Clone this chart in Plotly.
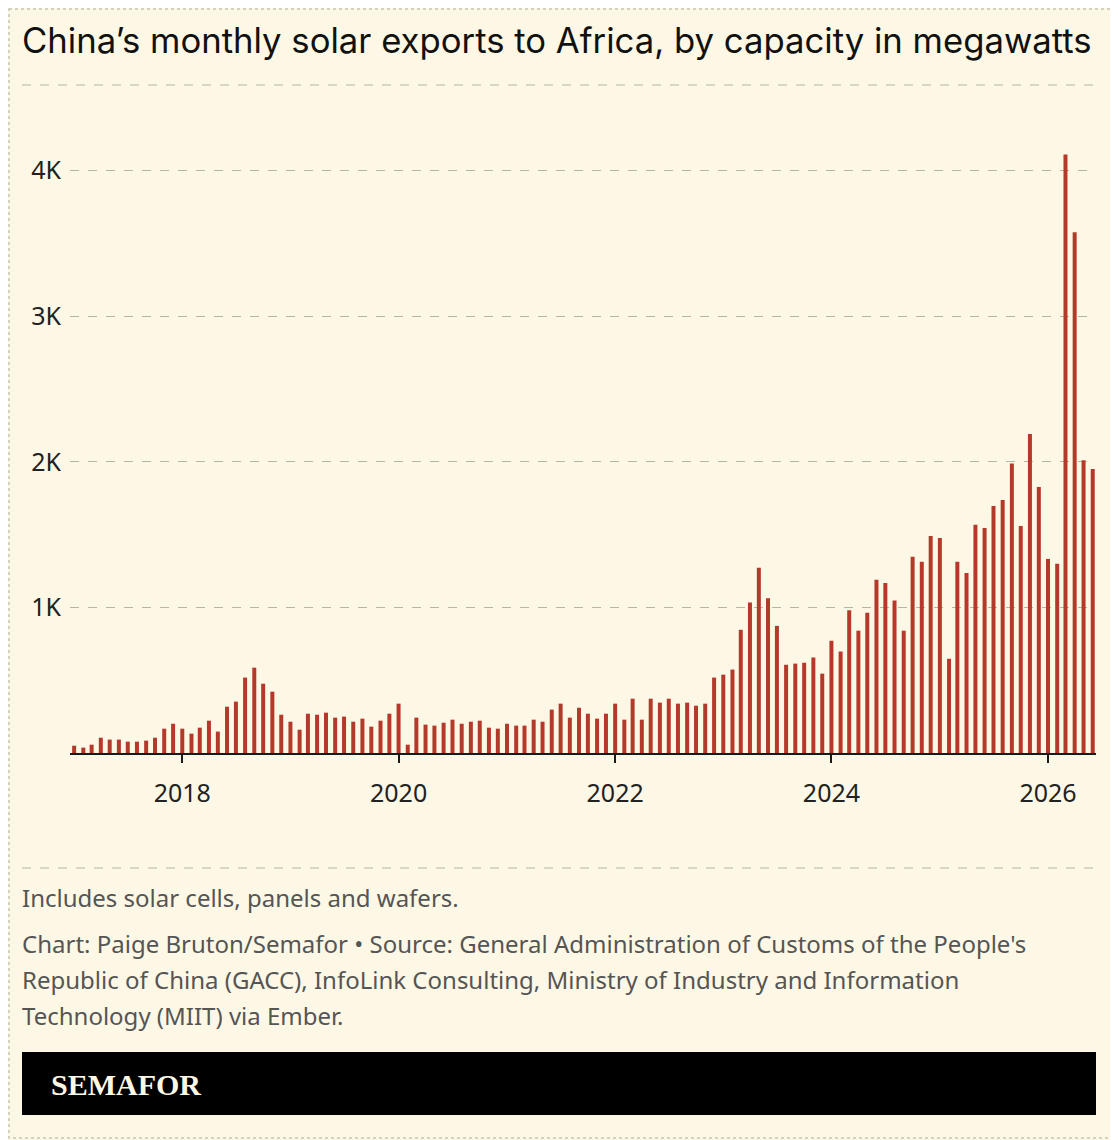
import pandas as pd
import plotly.graph_objects as go

# monthly exports, MW, Jan 2017 - Jun 2026
months = pd.date_range("2017-01-01", "2026-06-01", freq="MS")
mw_2017 = [50, 37, 57, 105, 92, 92, 78, 78, 85, 105, 167, 201]
mw_2018 = [167, 133, 174, 222, 147, 318, 353, 518, 586, 476, 421, 263]
mw_2019 = [215, 160, 270, 263, 277, 243, 250, 215, 236, 181, 222, 270]
mw_2020 = [339, 57, 243, 195, 188, 208, 229, 201, 215, 222, 174, 167]
mw_2021 = [201, 188, 188, 229, 215, 298, 339, 243, 311, 270, 236, 270]
mw_2022 = [339, 229, 373, 229, 373, 346, 373, 339, 346, 325, 339, 518]
mw_2023 = [538, 573, 846, 1033, 1273, 1063, 873, 606, 614, 620, 656, 545]
mw_2024 = [771, 697, 981, 840, 964, 1190, 1168, 1047, 840, 1347, 1314, 1490]
mw_2025 = [1477, 647, 1314, 1237, 1567, 1545, 1697, 1738, 1989, 1559, 2190, 1826]
mw_2026 = [1333, 1300, 4110, 3576, 2011, 1950]
values = mw_2017 + mw_2018 + mw_2019 + mw_2020 + mw_2021 + mw_2022 + mw_2023 + mw_2024 + mw_2025 + mw_2026

y_ticks = [1000, 2000, 3000, 4000]
y_labels = ["1K", "2K", "3K", "4K"]
x_ticks = ["2018-01-01", "2020-01-01", "2022-01-01", "2024-01-01", "2026-01-01"]
x_labels = ["2018", "2020", "2022", "2024", "2026"]

bg = "#fdf8e5"
W, H = 1118, 1140
OFF = 8  # page body margin
L, R, T, B = 70 - OFF, 22 + OFF, 110 - OFF, 387 + OFF

def py(p):  # reference pixel y -> paper y
    return (H - B - (p - OFF)) / (H - T - B)

def px_(p):  # reference pixel x -> paper x
    return (p - OFF - L) / (W - L - R)

day_ms = 24 * 3600 * 1000
fig = go.Figure(go.Bar(x=months, y=values, marker_color="#b5382a",
                       marker_line_width=0, width=13.5 * day_ms))

fig.update_layout(
    width=W, height=H, paper_bgcolor=bg, plot_bgcolor=bg,
    margin=dict(l=L, r=R, t=T, b=B), showlegend=False,
    font=dict(family="Noto Sans", color="#222"),
)
fig.update_xaxes(range=["2016-12-18", "2026-06-12"], tickvals=x_ticks, ticktext=x_labels,
                 ticks="outside", ticklen=8, tickwidth=2, tickcolor="#1a1a1a",
                 showline=True, linecolor="#1a1a1a", linewidth=2, showgrid=False,
                 tickfont=dict(size=25, color="#222"), zeroline=False,
                 ticklabelstandoff=9)
fig.update_yaxes(range=[0, 4416], tickvals=y_ticks, ticktext=y_labels,
                 showgrid=True, gridcolor="#b8b4a6", griddash="dash", gridwidth=1,
                 tickfont=dict(size=25, color="#222"), zeroline=False, ticklen=0,
                 ticklabelstandoff=8)

line_style = dict(color="#b8b4a6", width=1, dash="dash")
shapes = [
    dict(type="line", xref="paper", yref="paper", x0=px_(22), x1=px_(1096), y0=py(85), y1=py(85), line=line_style),
    dict(type="line", xref="paper", yref="paper", x0=px_(22), x1=px_(1096), y0=py(868), y1=py(868), line=line_style),
    dict(type="rect", xref="paper", yref="paper", x0=px_(22), x1=px_(1096), y0=py(1052), y1=py(1115),
         fillcolor="#000", line_width=0),
    dict(type="rect", xref="paper", yref="paper", x0=px_(9), x1=px_(1116), y0=py(9), y1=py(1138),
         line=dict(color="#c8c4b6", width=1.5, dash="dot")),
]
fig.update_layout(shapes=shapes)

def note(text, x, y, size, color, family="Noto Sans"):
    fig.add_annotation(text=text, xref="paper", yref="paper", x=px_(x), y=py(y),
                       xanchor="left", yanchor="middle", showarrow=False, align="left",
                       font=dict(size=size, color=color, family=family))

note("China’s monthly solar exports to Africa, by capacity in megawatts", 20, 40, 34.7, "#111", "Inter")
note("Includes solar cells, panels and wafers.", 20, 897, 24, "#555")
note("Chart: Paige Bruton/Semafor • Source: General Administration of Customs of the People's", 20, 943, 24, "#555")
note("Republic of China (GACC), InfoLink Consulting, Ministry of Industry and Information", 20, 979, 24, "#555")
note("Technology (MIIT) via Ember.", 20, 1015, 24, "#555")
note("<b>SEMAFOR</b>", 49, 1084, 30, "#fdf8e5", "Liberation Serif")

fig.write_html("out.html")
